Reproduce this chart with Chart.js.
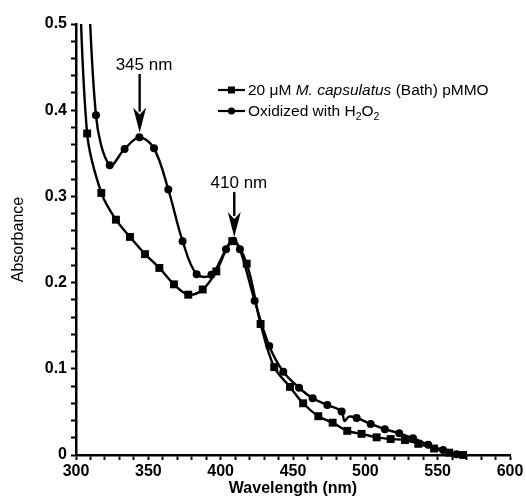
<!DOCTYPE html>
<html><head><meta charset="utf-8">
<script src="https://cdn.jsdelivr.net/npm/chart.js@4.4.1/dist/chart.umd.min.js"></script>
<style>html,body{margin:0;padding:0;background:#fff;}#wrap{width:526px;height:499px;}</style>
</head><body><div id="wrap"><canvas id="c" width="526" height="499"></canvas></div>
<script>
// ---- data ----
const pmmoWavelength = [301, 307.7, 317.5, 327.6, 337.3, 347.7, 357.6, 367.7, 377.6, 387.6, 397.0, 408.0, 418.0, 427.6, 437.0, 447.9, 457.0, 467.5, 477.4, 487.5, 497.4, 507.8, 517.5, 527.4, 536.6, 547.5, 558.0, 567.6];
const pmmoAbsorbance = [0.62, 0.373, 0.304, 0.273, 0.253, 0.233, 0.217, 0.198, 0.186, 0.192, 0.213, 0.248, 0.222, 0.152, 0.102, 0.079, 0.060, 0.045, 0.0375, 0.028, 0.0245, 0.0205, 0.0185, 0.0174, 0.013, 0.0075, 0.0027, 0.0];
const oxWavelength = [306.5, 313.8, 323.3, 333.6, 343.8, 353.9, 363.8, 373.7, 383.4, 393.6, 403.7, 408.8, 413.3, 423.5, 433.6, 443.3, 454.2, 463.6, 473.7, 483.6, 485.5, 488.7, 494.0, 503.7, 513.5, 523.4, 533.0, 543.5, 553.8, 563.0];
const oxAbsorbance = [0.64, 0.394, 0.336, 0.355, 0.3685, 0.3558, 0.308, 0.248, 0.2096, 0.209, 0.2386, 0.2485, 0.2386, 0.179, 0.1265, 0.0966, 0.078, 0.0658, 0.058, 0.0505, 0.0395, 0.0445, 0.0430, 0.036, 0.030, 0.0252, 0.0195, 0.0118, 0.0058, 0.001];
const oxUnmarked = [485.5, 488.7];
const xTickLabels = [300, 350, 400, 450, 500, 550, 600];
const yTickLabels = [0, 0.1, 0.2, 0.3, 0.4, 0.5];
const seriesNames = ['20 \u03bcM M. capsulatus (Bath) pMMO', 'Oxidized with H2O2'];
const peakLabels = ['345 nm', '410 nm'];
const peakWavelength = [344, 409.4];
const peakLabelAt = [[347, 0.452], [412.6, 0.3155]];
const peakArrowFromTo = [[0.442, 0.374], [0.305, 0.253]];

const FONT = '"Liberation Sans", Arial, Helvetica, sans-serif';
const toXY = (xs, ys) => xs.map((x, i) => ({x, y: ys[i]}));

const annotationPlugin = {
  id: 'annot',
  afterDatasetsDraw(chart) {
    const ctx = chart.ctx, xs = chart.scales.x, ys = chart.scales.y;
    ctx.save();
    ctx.fillStyle = '#000'; ctx.strokeStyle = '#000';
    // peak labels and arrows
    peakLabels.forEach((lab, i) => {
      ctx.font = '17px ' + FONT;
      ctx.textAlign = 'center'; ctx.textBaseline = 'middle';
      ctx.fillText(lab, xs.getPixelForValue(peakLabelAt[i][0]), ys.getPixelForValue(peakLabelAt[i][1]));
      const ax = xs.getPixelForValue(peakWavelength[i]);
      const y0 = ys.getPixelForValue(peakArrowFromTo[i][0]);
      const y1 = ys.getPixelForValue(peakArrowFromTo[i][1]);
      const head = 25, hw = 6.5;
      ctx.lineWidth = 2.4;
      ctx.beginPath(); ctx.moveTo(ax, y0); ctx.lineTo(ax, y1 - head + 4); ctx.stroke();
      ctx.beginPath();
      ctx.moveTo(ax, y1);
      ctx.lineTo(ax - hw, y1 - head);
      ctx.lineTo(ax, y1 - head + 7);
      ctx.lineTo(ax + hw, y1 - head);
      ctx.closePath(); ctx.fill();
    });
    // legend
    const lx0 = 218, lx1 = 245, tx = 248, rows = [90, 111];
    ctx.lineWidth = 2.2;
    rows.forEach((ry, i) => {
      ctx.beginPath(); ctx.moveTo(lx0, ry); ctx.lineTo(lx1, ry); ctx.stroke();
      const mx = (lx0 + lx1) / 2;
      if (i === 0) { ctx.fillRect(mx - 3.5, ry - 3.5, 7, 7); }
      else { ctx.beginPath(); ctx.arc(mx, ry, 3.6, 0, Math.PI * 2); ctx.fill(); }
    });
    ctx.textAlign = 'left'; ctx.textBaseline = 'middle';
    const size = 15.5;
    const drawSegs = (segs, x, y) => {
      segs.forEach(s => {
        const fs = s.sub ? size * 0.68 : size;
        ctx.font = (s.italic ? 'italic ' : '') + fs + 'px ' + FONT;
        ctx.fillText(s.t, x, s.sub ? y + 5 : y);
        x += ctx.measureText(s.t).width;
      });
    };
    const n0 = seriesNames[0];
    const iStart = n0.indexOf('M. '), iEnd = n0.indexOf(' (');
    drawSegs([{t: n0.slice(0, iStart)}, {t: n0.slice(iStart, iEnd), italic: true}, {t: n0.slice(iEnd)}], tx, rows[0] + 1);
    const n1 = seriesNames[1];
    const segs1 = [];
    n1.split(/(2)/).forEach(p => { if (p === '2') segs1.push({t: '2', sub: true}); else if (p) segs1.push({t: p}); });
    drawSegs(segs1, tx, rows[1] + 1);
    ctx.restore();
  }
};

const near = (v, arr, tol) => arr.some(a => Math.abs(a - v) < tol);

new Chart(document.getElementById('c'), {
  type: 'line',
  data: {
    datasets: [
      {
        label: seriesNames[0],
        data: toXY(pmmoWavelength, pmmoAbsorbance),
        borderColor: '#000', backgroundColor: '#000',
        borderWidth: 2.4, pointStyle: 'rect', pointRadius: 5.6,
        pointBackgroundColor: '#000', pointBorderColor: '#000', pointBorderWidth: 0,
        tension: 0.35, fill: false,
        clip: {left: 6, right: 6, top: 0, bottom: 6}
      },
      {
        label: seriesNames[1],
        data: toXY(oxWavelength, oxAbsorbance),
        borderColor: '#000', backgroundColor: '#000',
        borderWidth: 2.4, pointStyle: 'circle',
        pointRadius: c => (c.raw && near(c.raw.x, oxUnmarked, 0.01)) ? 0 : 4,
        pointBackgroundColor: '#000', pointBorderColor: '#000', pointBorderWidth: 0,
        tension: 0.35, fill: false,
        clip: {left: 6, right: 6, top: 0, bottom: 6}
      }
    ]
  },
  options: {
    responsive: false, animation: false, devicePixelRatio: 1,
    layout: {padding: {top: 24, right: 16, left: 0, bottom: 0}},
    plugins: {legend: {display: false}, tooltip: {enabled: false}},
    elements: {line: {capBezierPoints: true}},
    scales: {
      x: {
        type: 'linear', min: 300, max: 600,
        afterFit: s => { s.height = 44; },
        border: {display: true, color: '#000', width: 2.5},
        grid: {display: true, drawOnChartArea: false, drawTicks: true, tickLength: 5, tickColor: '#000', tickWidth: 2},
        ticks: {
          stepSize: 10, autoSkip: false, maxRotation: 0, padding: 2, color: '#000',
          font: {family: FONT, size: 16, weight: 'bold'},
          callback: v => near(v, xTickLabels, 0.001) ? String(Math.round(v)) : ''
        },
        title: {display: true, text: 'Wavelength (nm)', color: '#000', padding: {bottom: 1, top: 0},
          font: {family: FONT, size: 16, weight: 'bold'}}
      },
      y: {
        type: 'linear', min: 0, max: 0.5,
        afterFit: s => { s.width = 76; },
        border: {display: true, color: '#000', width: 2.5},
        grid: {display: true, drawOnChartArea: false, drawTicks: true, tickLength: 5, tickColor: '#000', tickWidth: 2},
        ticks: {
          stepSize: 0.02, autoSkip: false, padding: 4, color: '#000',
          font: {family: FONT, size: 16, weight: 'bold'},
          callback: v => near(v, yTickLabels, 1e-6) ? (Math.abs(v) < 1e-9 ? '0' : v.toFixed(1)) : ''
        },
        title: {display: true, text: 'Absorbance', color: '#000', padding: {top: 9, bottom: 0},
          font: {family: FONT, size: 16, weight: 'normal'}}
      }
    }
  },
  plugins: [annotationPlugin]
});
</script></body></html>
